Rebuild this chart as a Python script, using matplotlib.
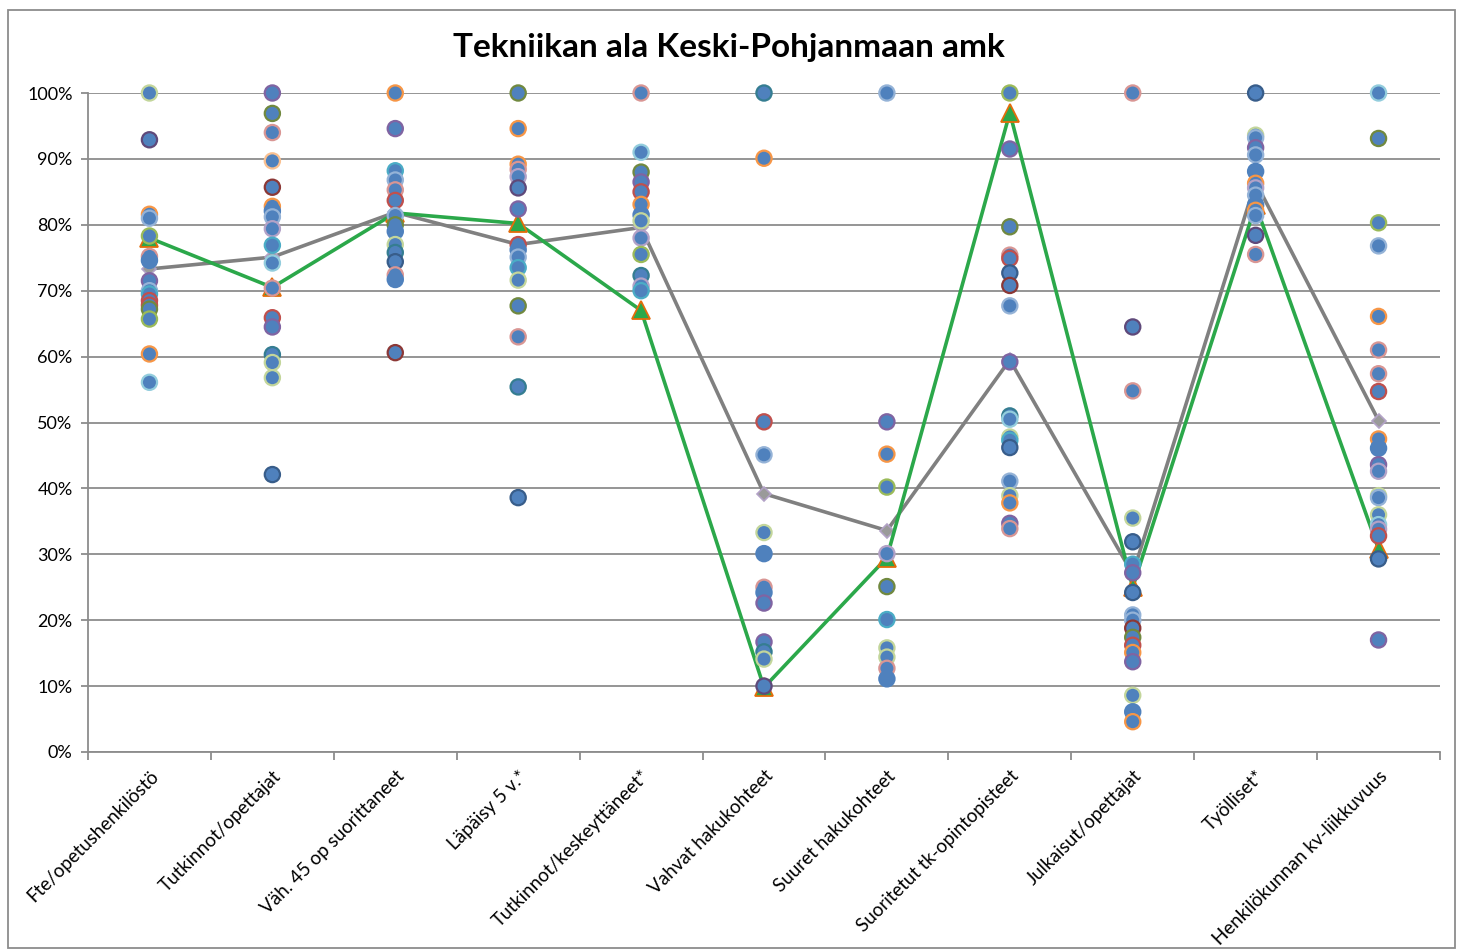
import matplotlib
matplotlib.use("Agg")
import matplotlib.pyplot as plt
from matplotlib.patches import Rectangle
from matplotlib.ticker import FuncFormatter, FixedLocator

plt.rcParams['font.family'] = ['Lato', 'DejaVu Sans']

categories = ["Fte/opetushenkilöstö", "Tutkinnot/opettajat", "Väh. 45 op suorittaneet",
              "Läpäisy 5 v.*", "Tutkinnot/keskeyttäneet*", "Vahvat hakukohteet",
              "Suuret hakukohteet", "Suoritetut tk-opintopisteet", "Julkaisut/opettajat",
              "Työlliset*", "Henkilökunnan kv-liikkuvuus"]

# other schools' values per category (%)
c1 = [100, 92.9, 81.6, 81.0, 78.3, 75.2, 74.6, 71.5, 70.0, 69.5, 68.5, 67.8, 67.2, 65.7, 60.4, 56.1]
c2 = [100, 96.9, 94.0, 89.7, 85.7, 82.8, 82.1, 81.2, 79.4, 76.9, 74.2, 70.4, 65.9, 64.5, 60.3, 59.1, 56.8, 42.1]
c3 = [100, 94.6, 88.2, 86.8, 85.3, 83.7, 81.4, 80.0, 79.0, 77.0, 75.8, 74.4, 72.4, 71.7, 60.6]
c4 = [100, 94.6, 89.2, 88.4, 87.3, 85.6, 82.4, 77.0, 76.2, 75.1, 73.5, 71.6, 67.7, 63.0, 55.4, 38.6]
c5 = [100, 91.0, 88.0, 86.5, 85.0, 83.1, 81.5, 80.6, 78.0, 75.5, 72.3, 70.7, 70.0]
c6 = [100, 90.1, 50.1, 45.1, 33.3, 30.1, 25.0, 24.2, 22.6, 16.7, 15.2, 14.1, 10.0]
c7 = [100, 50.1, 45.2, 40.2, 30.1, 25.1, 20.1, 15.8, 14.4, 12.7, 11.1]
c8 = [100, 91.5, 79.7, 75.4, 74.9, 72.7, 70.8, 67.7, 59.2, 51.0, 50.5, 47.8, 47.3, 46.2, 41.1, 38.9, 37.8, 34.7, 33.9]
c9 = [100, 64.5, 54.8, 35.5, 31.9, 28.5, 27.2, 24.2, 20.8, 20.0, 18.8, 17.4, 16.2, 15.1, 13.7, 8.6, 6.1, 4.6]
c10 = [100, 93.6, 93.2, 91.7, 90.6, 88.1, 86.3, 85.6, 84.5, 83.0, 82.2, 81.4, 78.4, 75.5]
c11 = [100, 93.1, 80.3, 76.8, 66.1, 61.0, 57.4, 54.7, 47.5, 46.1, 43.6, 42.6, 38.9, 38.6, 36.0, 34.5, 33.8, 32.8, 29.3, 17.0]
others = [c1, c2, c3, c4, c5, c6, c7, c8, c9, c10, c11]

# edge colour keys for the dots
e1 = "LG DP O LB G PK B P LB A R R OL G O LA".split()
e2 = "P OL PK LO DR O B LB LP A LA PK R P DA LG LG DB".split()
e3 = "O P A LB PK R LB OL B LG DA DB PK B DR".split()
e4 = "OL O O PK LP DP P R B LB A LG OL PK DA DB".split()
e5 = "PK LA OL P R O B LG LP G DA LP A".split()
e6 = "DA O R LB LG B PK B P P DA LG DP".split()
e7 = "LB P O G LP OL A LG LG PK B".split()
e8 = "G P OL PK R DB DR LB P DA LA LG A DB LB LG O P PK".split()
e9 = "PK DP PK LG DB A P DB LB LB DR OL R O P LG B O".split()
e10 = "DB LG LB P LB B O LP LB B O LB DP PK".split()
e11 = "LA OL G LB O PK PK R O B P LP LG LB LG LA LP R DB P".split()
edges = [e1, e2, e3, e4, e5, e6, e7, e8, e9, e10, e11]

school = [78.0, 70.5, 81.8, 80.2, 67.0, 9.8, 29.5, 97.0, 25.0, 83.0, 30.8]
average = [73.3, 75.1, 81.9, 77.0, 79.6, 39.2, 33.6, 59.5, 27.0, 86.5, 50.3]

palette = {"B": "#4F81BD", "DB": "#385D8A", "R": "#C0504D", "DR": "#8C3836",
           "G": "#9BBB59", "OL": "#71893F", "P": "#8064A2", "DP": "#5F497A",
           "A": "#4BACC6", "DA": "#357D91", "O": "#F79646", "LB": "#95B3D7",
           "PK": "#D99694", "LG": "#C3D69B", "LP": "#B3A2C7", "LA": "#93CDDD",
           "LO": "#FAC090"}

fig = plt.figure(figsize=(14.57, 9.5), dpi=100)
ax = fig.add_axes([88/1457, 1-752/950, (1440-88)/1457, (752-93)/950])

x = list(range(len(categories)))

ax.plot(x, average, color="#808080", lw=2.6, marker="D", ms=7,
        mfc="#9A9A9A", mec="#B3A2C7", mew=1.2, zorder=3, clip_on=False)
ax.plot(x, school, color="#2BA84A", lw=2.6, marker="^", ms=13,
        mfc="#2BA84A", mec="#E46C0A", mew=1.3, zorder=3, clip_on=False)

for i, (vals, ecs) in enumerate(zip(others, edges)):
    ax.scatter([i]*len(vals), vals, s=120, c="#4F81BD",
               edgecolors=[palette[k] for k in ecs], linewidths=1.6, zorder=4,
               clip_on=False)

ax.set_xlim(-0.5, len(categories)-0.5)
ax.set_ylim(0, 100)
ax.set_yticks(range(0, 101, 10))
ax.yaxis.set_major_formatter(FuncFormatter(lambda v, p: f"{int(v)}%"))
ax.grid(axis="y", color="#8C8C8C", lw=1.3)
ax.set_axisbelow(True)

ax.set_xticks(x)
ax.set_xticklabels(categories, rotation=45, ha="right", va="top",
                   rotation_mode="anchor", fontsize=13.5)
ax.xaxis.set_minor_locator(FixedLocator([i - 0.5 for i in range(len(categories)+1)]))
ax.tick_params(axis="x", which="major", length=0, pad=11)
ax.tick_params(axis="x", which="minor", length=6, color="#8C8C8C", width=1.3)
ax.tick_params(axis="y", length=5, color="#8C8C8C", width=1.3, labelsize=13, pad=6)

for s in ["top", "right"]:
    ax.spines[s].set_visible(False)
for s in ["left", "bottom"]:
    ax.spines[s].set_color("#8C8C8C")
    ax.spines[s].set_linewidth(1.3)

fig.text(0.5, 1-48/950, "Tekniikan ala Keski-Pohjanmaan amk", ha="center", va="center",
         fontsize=24, fontweight="bold")

fig.patches.append(Rectangle((8/1457, 2/950), 1447/1457, 938/950,
                             transform=fig.transFigure, fill=False,
                             edgecolor="#8C8C8C", lw=1.3))

fig.savefig("out.png", dpi=100)
